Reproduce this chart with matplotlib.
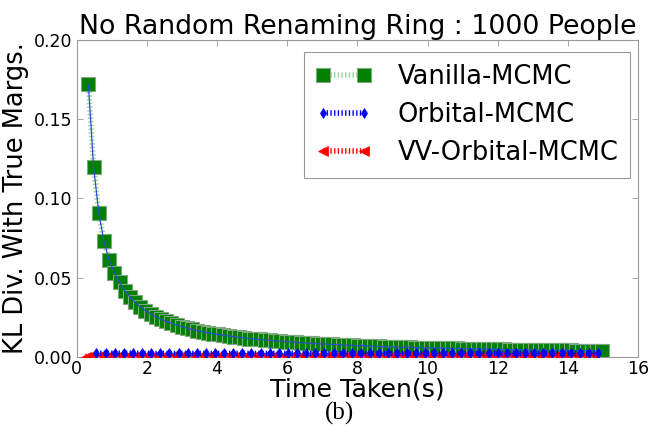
import matplotlib
matplotlib.use("Agg")
import matplotlib.pyplot as plt

plt.rcParams['lines.scale_dashes'] = False
plt.rcParams['font.family'] = ['DejaVu Sans']

title = "No Random Renaming Ring : 1000 People"
xlabel = "Time Taken(s)"
ylabel = "KL Div. With True Margs."
caption = "(b)"
series_names = ["Vanilla-MCMC", "Orbital-MCMC", "VV-Orbital-MCMC"]
xticks = [0, 2, 4, 6, 8, 10, 12, 14, 16]
yticks = [0.00, 0.05, 0.10, 0.15, 0.20]

vanilla_t = [0.330, 0.478, 0.626, 0.774, 0.922, 1.070, 1.218, 1.366, 1.514, 1.662,
             1.810, 1.958, 2.106, 2.254, 2.402, 2.550, 2.698, 2.846, 2.994, 3.142,
             3.290, 3.438, 3.586, 3.734, 3.882, 4.030, 4.178, 4.326, 4.474, 4.622,
             4.770, 4.918, 5.066, 5.214, 5.362, 5.510, 5.658, 5.806, 5.954, 6.102,
             6.250, 6.398, 6.546, 6.694, 6.842, 6.990, 7.138, 7.286, 7.434, 7.582,
             7.730, 7.878, 8.026, 8.174, 8.322, 8.470, 8.618, 8.766, 8.914, 9.062,
             9.210, 9.358, 9.506, 9.654, 9.802, 9.950, 10.098, 10.246, 10.394, 10.542,
             10.690, 10.838, 10.986, 11.134, 11.282, 11.430, 11.578, 11.726, 11.874, 12.022,
             12.170, 12.318, 12.466, 12.614, 12.762, 12.910, 13.058, 13.206, 13.354, 13.502,
             13.650, 13.798, 13.946, 14.094, 14.242, 14.390, 14.538, 14.686, 14.834, 14.982]
vanilla_kl = [0.1720, 0.1200, 0.0910, 0.0730, 0.0610, 0.0530, 0.0470, 0.0419, 0.0378, 0.0344,
              0.0316, 0.0292, 0.0272, 0.0254, 0.0238, 0.0224, 0.0212, 0.0201, 0.0191, 0.0182,
              0.0174, 0.0166, 0.0160, 0.0153, 0.0147, 0.0142, 0.0137, 0.0132, 0.0128, 0.0124,
              0.0120, 0.0116, 0.0113, 0.0110, 0.0107, 0.0104, 0.0101, 0.0099, 0.0096, 0.0094,
              0.0092, 0.0089, 0.0087, 0.0085, 0.0084, 0.0082, 0.0080, 0.0079, 0.0077, 0.0075,
              0.0074, 0.0073, 0.0071, 0.0070, 0.0069, 0.0068, 0.0066, 0.0065, 0.0064, 0.0063,
              0.0062, 0.0061, 0.0060, 0.0059, 0.0058, 0.0057, 0.0057, 0.0056, 0.0055, 0.0054,
              0.0054, 0.0053, 0.0052, 0.0051, 0.0051, 0.0050, 0.0049, 0.0049, 0.0048, 0.0048,
              0.0047, 0.0046, 0.0046, 0.0045, 0.0045, 0.0044, 0.0044, 0.0043, 0.0043, 0.0042,
              0.0042, 0.0041, 0.0041, 0.0041, 0.0040, 0.0040, 0.0039, 0.0039, 0.0039, 0.0038]

orbital_t = [0.56, 0.82, 1.08, 1.34, 1.60, 1.86, 2.12, 2.38, 2.64, 2.90,
             3.16, 3.42, 3.68, 3.94, 4.20, 4.46, 4.72, 4.98, 5.24, 5.50,
             5.76, 6.02, 6.28, 6.54, 6.80, 7.06, 7.32, 7.58, 7.84, 8.10,
             8.36, 8.62, 8.88, 9.14, 9.40, 9.66, 9.92, 10.18, 10.44, 10.70,
             10.96, 11.22, 11.48, 11.74, 12.00, 12.26, 12.52, 12.78, 13.04, 13.30,
             13.56, 13.82, 14.08, 14.34, 14.60, 14.86]
orbital_kl = [0.0024, 0.0023, 0.0023, 0.0023, 0.0023, 0.0022, 0.0022, 0.0022, 0.0022, 0.0022,
              0.0022, 0.0022, 0.0022, 0.0022, 0.0022, 0.0022, 0.0022, 0.0022, 0.0022, 0.0022,
              0.0022, 0.0022, 0.0022, 0.0022, 0.0022, 0.0022, 0.0022, 0.0022, 0.0022, 0.0022,
              0.0022, 0.0022, 0.0022, 0.0022, 0.0022, 0.0022, 0.0022, 0.0022, 0.0022, 0.0022,
              0.0022, 0.0022, 0.0022, 0.0022, 0.0022, 0.0022, 0.0022, 0.0022, 0.0022, 0.0022,
              0.0022, 0.0022, 0.0022, 0.0022, 0.0022, 0.0022]

vv_t = [0.25, 0.44, 0.70, 0.96, 1.22, 1.48, 1.74, 2.00, 2.26, 2.52,
        2.78, 3.04, 3.30, 3.56, 3.82, 4.08, 4.34, 4.60, 4.86, 5.12,
        5.38, 5.64, 5.90, 6.16, 6.42, 6.68, 6.94, 7.20, 7.46, 7.72,
        7.98, 8.24, 8.50, 8.76, 9.02, 9.28, 9.54, 9.80, 10.06, 10.32,
        10.58, 10.84, 11.10, 11.36, 11.62, 11.88, 12.14, 12.40, 12.66, 12.92,
        13.18, 13.44, 13.70, 13.96, 14.22, 14.48, 14.74]
vv_kl = [0.0002, 0.0009, 0.0009, 0.0009, 0.0009, 0.0009, 0.0009, 0.0009, 0.0009, 0.0009,
         0.0009, 0.0009, 0.0009, 0.0009, 0.0009, 0.0009, 0.0009, 0.0009, 0.0009, 0.0009,
         0.0009, 0.0009, 0.0009, 0.0009, 0.0009, 0.0009, 0.0009, 0.0009, 0.0009, 0.0009,
         0.0009, 0.0009, 0.0009, 0.0009, 0.0009, 0.0009, 0.0009, 0.0009, 0.0009, 0.0009,
         0.0009, 0.0009, 0.0009, 0.0009, 0.0009, 0.0009, 0.0009, 0.0009, 0.0009, 0.0009,
         0.0009, 0.0009, 0.0009, 0.0009, 0.0009, 0.0009, 0.0009]

fig = plt.figure(figsize=(6.51, 4.45), dpi=100)
ax = fig.add_axes([0.118, 0.198, 0.862, 0.712])

ax.plot(vanilla_t, vanilla_kl, linestyle=':', color='#9fd49f', lw=4,
        marker='s', markersize=9.5, markerfacecolor='#008000',
        markeredgecolor='#80a880', markeredgewidth=0.8,
        label=series_names[0], zorder=2)
ax.plot(vanilla_t, vanilla_kl, linestyle='-', color='#2a4fd0', lw=0.9, zorder=3)
ax.plot(vv_t, vv_kl, linestyle=':', color='#ff0000', lw=4,
        marker='<', markersize=7, markerfacecolor='#ff0000',
        markeredgecolor='#ff0000', markeredgewidth=0.5,
        label=series_names[2], zorder=4)
ax.plot(orbital_t, orbital_kl, linestyle=':', color='#0000ff', lw=4,
        marker='d', markersize=5.5, markerfacecolor='#0000ff',
        markeredgecolor='#0000ff', markeredgewidth=0.5,
        label=series_names[1], zorder=5)

ax.set_xlim(0, 16)
ax.set_ylim(0, 0.20)
ax.set_xticks(xticks)
ax.set_yticks(yticks)
ax.set_xticklabels([str(v) for v in xticks])
ax.set_yticklabels([f"{v:.2f}" for v in yticks])
ax.tick_params(direction='in', top=True, right=True, length=4, width=0.6,
               color='#999999', labelsize=12.5, pad=3)
ax.tick_params(axis='x', pad=2)
for s in ax.spines.values():
    s.set_color('#999999')
    s.set_linewidth(0.8)

ax.set_title(title, fontsize=19.3, pad=4)
ax.set_xlabel(xlabel, fontsize=18.2, labelpad=0)
ax.set_ylabel(ylabel, fontsize=18.5, labelpad=4)

handles, labels = ax.get_legend_handles_labels()
order = [labels.index(n) for n in series_names]
leg = ax.legend([handles[i] for i in order], [labels[i] for i in order],
                loc='upper right', bbox_to_anchor=(0.986, 0.962),
                numpoints=2,
                fontsize=18.5, handlelength=2.2, handletextpad=1.0,
                borderpad=0.45, labelspacing=0.48, fancybox=False, framealpha=1,
                borderaxespad=0.0)
leg.get_frame().set_edgecolor('#999999')
leg.get_frame().set_linewidth(0.8)

fig.text(0.522, 0.072, caption, fontsize=18, family=['Liberation Serif', 'DejaVu Serif'],
         ha='center', va='center')

fig.savefig("out.png", dpi=100)
